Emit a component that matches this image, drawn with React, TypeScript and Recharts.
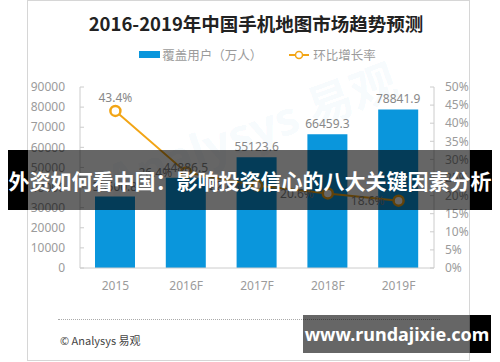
import React from 'react';
import { ComposedChart, Bar, Line, XAxis, YAxis, LabelList, Legend } from 'recharts';

const years = ['2015', '2016F', '2017F', '2018F', '2019F'];
const users = [35500.8, 44886.5, 55123.6, 66459.3, 78841.9];
const growth = [43.4, 26.4, 22.8, 20.6, 18.6];
const userTicks = [0, 10000, 20000, 30000, 40000, 50000, 60000, 70000, 80000, 90000];
const rateTicks = [0, 5, 10, 15, 20, 25, 30, 35, 40, 45, 50];

const seriesNames = { users: '覆盖用户（万人）', growth: '环比增长率' };
const titleText = '2016-2019年中国手机地图市场趋势预测';
const bannerText = '外资如何看中国：影响投资信心的八大关键因素分析';
const siteText = 'www.rundajixie.com';
const sourceText = '© Analysys 易观';

const data = years.map((y, i) => ({ year: y, users: users[i], growth: growth[i] }));

const FONT = '"Noto Sans", "Noto Sans CJK SC", sans-serif';
const CJK = '"Noto Sans CJK SC", "Noto Sans", sans-serif';
const AXIS = '#cccccc';
const TICK_TEXT = '#9b9b9b';
const LABEL_TEXT = '#888888';
const BLUE = '#0a96dc';
const ORANGE = '#f2a516';

const LeftTick = (props: any) => {
  const { x, y, payload } = props;
  return (
    <g>
      <line x1={x + 15} x2={x + 19} y1={y} y2={y} stroke={AXIS} />
      <text x={x} y={y} dy="0.35em" textAnchor="end" fill={TICK_TEXT} fontSize={12} fontFamily={FONT}>
        {payload.value}
      </text>
    </g>
  );
};

const RightTick = (props: any) => {
  const { x, y, payload } = props;
  return (
    <g>
      <line x1={x - 11} x2={x - 15} y1={y} y2={y} stroke={AXIS} />
      <text x={x} y={y} dy="0.35em" textAnchor="start" fill={TICK_TEXT} fontSize={12} fontFamily={FONT}>
        {payload.value + '%'}
      </text>
    </g>
  );
};

const BottomTick = (props: any) => {
  const { x, y, payload } = props;
  return (
    <text x={x} y={y + 16} dy="0.35em" textAnchor="middle" fill={TICK_TEXT} fontSize={12} fontFamily={FONT}>
      {payload.value}
    </text>
  );
};

const RateLabel = (props: any) => {
  const { x, y, value, index } = props;
  const txt = value.toFixed(1) + '%';
  if (index === 0) {
    return (
      <text x={x} y={y - 9} textAnchor="middle" fill={LABEL_TEXT} fontSize={12} fontFamily={FONT}>
        {txt}
      </text>
    );
  }
  return (
    <text x={x - 14} y={y} dy="0.35em" textAnchor="end" fill={LABEL_TEXT} fontSize={12} fontFamily={FONT}>
      {txt}
    </text>
  );
};

const LegendContent = () => (
  <div style={{ display: 'flex', justifyContent: 'center', alignItems: 'center', fontFamily: CJK, fontSize: 12.5, color: '#9b9b9b', paddingLeft: 15 }}>
    <span style={{ display: 'inline-block', width: 21, height: 7, background: BLUE, marginRight: 2 }} />
    <span>{seriesNames.users}</span>
    <svg width={20} height={10} style={{ marginLeft: 27, marginRight: 4 }}>
      <line x1={0} x2={20} y1={5} y2={5} stroke={ORANGE} strokeWidth={2} />
      <circle cx={10} cy={5} r={3.5} fill="#fff" stroke={ORANGE} strokeWidth={1.5} />
    </svg>
    <span>{seriesNames.growth}</span>
  </div>
);

export default function App() {
  return (
    <div style={{ position: 'absolute', left: 0, top: 0, width: 500, height: 362, background: '#fff', overflow: 'hidden' }}>
      <div style={{ position: 'absolute', left: 27, top: 0, width: 443, height: 361, border: '1px solid #d6d6d6', boxSizing: 'border-box' }} />
      <div
        style={{
          position: 'absolute', left: 250, top: 128, transform: 'translate(-50%, -50%) rotate(-20deg)',
          fontFamily: FONT, fontSize: 46, fontWeight: 700, color: 'rgba(10,150,220,0.055)', whiteSpace: 'nowrap',
        }}
      >
        Analysys 易观
      </div>
      <div style={{ position: 'absolute', left: 6, top: 10, width: 500, textAlign: 'center', fontFamily: CJK, fontWeight: 700, fontSize: 18.5, color: '#222', lineHeight: '26px' }}>
        {titleText}
      </div>
      <div style={{ position: 'absolute', left: 0, top: 0 }}>
        <ComposedChart width={500} height={362} data={data} margin={{ top: 87, right: 16, bottom: 45, left: 20 }}>
          <Legend content={<LegendContent />} wrapperStyle={{ position: 'absolute', top: 45, left: 0, width: 500 }} />
          <XAxis dataKey="year" height={30} stroke={AXIS} tickLine={false} tickSize={0} tick={<BottomTick />} interval={0} />
          <YAxis yAxisId="left" width={60} domain={[0, 90000]} ticks={userTicks} stroke={AXIS} tickLine={false} tickSize={0} tickMargin={15} tick={<LeftTick />} interval={0} />
          <YAxis yAxisId="right" orientation="right" width={50} domain={[0, 50]} ticks={rateTicks} stroke={AXIS} tickLine={false} tickSize={0} tickMargin={11} tick={<RightTick />} interval={0} />
          <Bar yAxisId="left" dataKey="users" fill={BLUE} barSize={40} isAnimationActive={false}>
            <LabelList dataKey="users" position="top" offset={6} fill={LABEL_TEXT} fontSize={12} fontFamily={FONT} formatter={(v: any) => Number(v).toFixed(1)} />
          </Bar>
          <Line yAxisId="right" dataKey="growth" stroke={ORANGE} strokeWidth={2} dot={{ r: 5, fill: '#fff', stroke: ORANGE, strokeWidth: 2.5 }} isAnimationActive={false}>
            <LabelList dataKey="growth" content={<RateLabel />} />
          </Line>
        </ComposedChart>
      </div>
      <div style={{ position: 'absolute', left: 58, top: 319, width: 382, borderTop: '1px dotted #aaaaaa' }} />
      <div style={{ position: 'absolute', left: 60, top: 332, fontFamily: CJK, fontSize: 11, color: '#444', lineHeight: '16px' }}>
        {sourceText}
      </div>
      <div style={{ position: 'absolute', left: 8, top: 150, width: 20, height: 60, background: '#000' }} />
      <div style={{ position: 'absolute', left: 28, top: 150, width: 442, height: 60, background: 'rgba(0,0,0,0.6)' }} />
      <div style={{ position: 'absolute', left: 470, top: 150, width: 22, height: 60, background: '#000' }} />
      <div style={{ position: 'absolute', left: 0, top: 150, width: 500, height: 60, display: 'flex', alignItems: 'center', justifyContent: 'center', fontFamily: CJK, fontWeight: 700, fontSize: 21, color: '#fff', whiteSpace: 'nowrap' }}>
        {bannerText}
      </div>
      <div style={{ position: 'absolute', left: 303, top: 315, width: 167, height: 38, background: 'rgba(0,0,0,0.6)' }} />
      <div style={{ position: 'absolute', left: 470, top: 315, width: 21, height: 38, background: '#000' }} />
      <div style={{ position: 'absolute', left: 303, top: 315, width: 188, height: 38, display: 'flex', alignItems: 'center', justifyContent: 'center', fontFamily: FONT, fontWeight: 700, fontSize: 18, color: '#fff', whiteSpace: 'nowrap' }}>
        {siteText}
      </div>
    </div>
  );
}
